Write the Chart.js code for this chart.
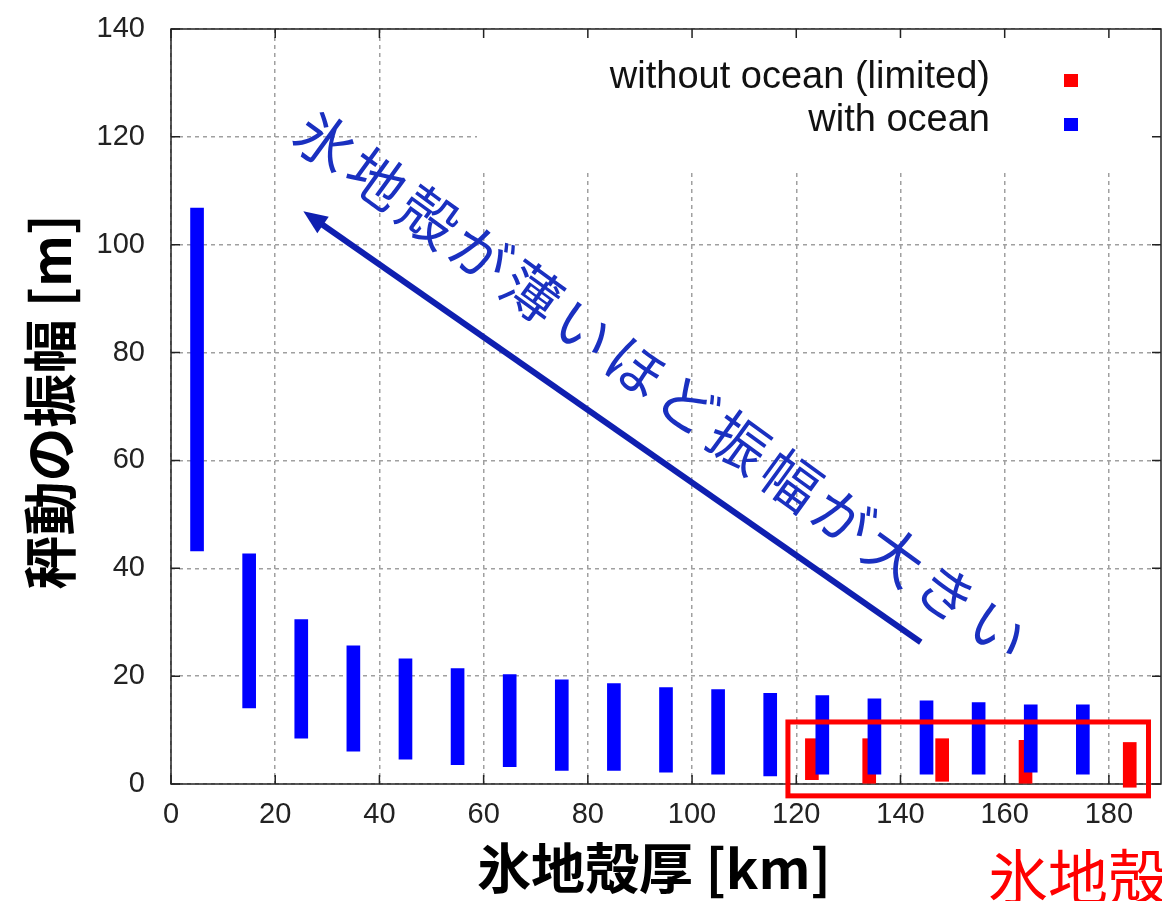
<!DOCTYPE html>
<html>
<head>
<meta charset="utf-8">
<script src="https://cdn.jsdelivr.net/npm/chart.js"></script>
<style>
  html, body { margin: 0; padding: 0; background: #fff; }
</style>
</head>
<body>
<canvas id="chart" width="1162" height="901"></canvas>
<script>
// ice shell thickness [km] vs libration amplitude range [m]
const withOceanX = [5, 15, 25, 35, 45, 55, 65, 75, 85, 95, 105, 115, 125, 135, 145, 155, 165, 175];
const withOceanLow = [43.2, 14.1, 8.5, 6.1, 4.6, 3.6, 3.2, 2.5, 2.5, 2.2, 1.8, 1.5, 1.8, 1.8, 1.8, 1.8, 2.2, 1.8];
const withOceanHigh = [106.8, 42.7, 30.5, 25.6, 23.2, 21.4, 20.3, 19.3, 18.6, 17.9, 17.5, 16.8, 16.4, 15.8, 15.4, 15.1, 14.7, 14.7];

const withoutOceanX = [123, 134, 148, 164, 184];
const withoutOceanLow = [0.8, 0.0, 0.5, 0.0, -0.6];
const withoutOceanHigh = [8.4, 8.4, 8.4, 8.1, 7.7];

const xTicks = [0, 20, 40, 60, 80, 100, 120, 140, 160, 180];
const yTicks = [0, 20, 40, 60, 80, 100, 120, 140];

const seriesNames = ['without ocean (limited)', 'with ocean'];
const xTitle = '氷地殻厚 [km]';
const yTitle = '秤動の振幅 [m]';
const noteText = '氷地殻が薄いほど振幅が大きい';
const boxText = '氷地殻';

const toPoints = (xs, lo, hi) => xs.map((x, i) => ({ x: x, y: [lo[i], hi[i]] }));

// gnuplot-like frame, inner ticks and opaque key area
const frame = {
    id: 'frame',
    beforeDatasetsDraw(chart) {
        const { ctx, chartArea: a, scales: { x, y } } = chart;
        ctx.save();
        ctx.fillStyle = '#fff';
        ctx.fillRect(477, a.top, a.right - 477, 170 - a.top);

        ctx.strokeStyle = '#222';
        ctx.lineWidth = 1.5;
        ctx.strokeRect(a.left, a.top, a.right - a.left, a.bottom - a.top);
        ctx.beginPath();
        xTicks.forEach(v => {
            const px = x.getPixelForValue(v);
            ctx.moveTo(px, a.bottom); ctx.lineTo(px, a.bottom - 9);
            ctx.moveTo(px, a.top); ctx.lineTo(px, a.top + 9);
        });
        yTicks.forEach(v => {
            const py = y.getPixelForValue(v);
            ctx.moveTo(a.left, py); ctx.lineTo(a.left + 9, py);
            ctx.moveTo(a.right, py); ctx.lineTo(a.right - 9, py);
        });
        ctx.stroke();
        ctx.restore();
    },
    afterDraw(chart) {
        const { ctx, scales: { x, y } } = chart;
        ctx.save();

        // key
        ctx.font = '38px "Liberation Sans", Arial, sans-serif';
        ctx.fillStyle = '#111';
        ctx.textAlign = 'right';
        ctx.textBaseline = 'alphabetic';
        ctx.fillText(seriesNames[0], 990, 88);
        ctx.fillText(seriesNames[1], 990, 131);
        ctx.fillStyle = '#ff0000';
        ctx.fillRect(1064, 74, 14, 13);
        ctx.fillStyle = '#0000ff';
        ctx.fillRect(1064, 118, 14, 13);

        // axis titles
        ctx.fillStyle = '#000';
        ctx.font = 'bold 54px "Noto Sans CJK JP", sans-serif';
        ctx.textAlign = 'center';
        ctx.textBaseline = 'middle';
        ctx.fillText(xTitle, 654, 868);
        ctx.save();
        ctx.translate(50, 402);
        ctx.rotate(-Math.PI / 2);
        ctx.fillText(yTitle, 0, 0);
        ctx.restore();

        // arrow
        const tx = x.getPixelForValue(143.9), ty = y.getPixelForValue(26.3);
        const hx = x.getPixelForValue(25.4), hy = y.getPixelForValue(106.2);
        const ang = Math.atan2(hy - ty, hx - tx);
        ctx.strokeStyle = '#0f1fb0';
        ctx.fillStyle = '#0f1fb0';
        ctx.lineWidth = 6;
        ctx.beginPath();
        ctx.moveTo(tx, ty);
        ctx.lineTo(hx - 16 * Math.cos(ang), hy - 16 * Math.sin(ang));
        ctx.stroke();
        ctx.beginPath();
        ctx.moveTo(hx, hy);
        ctx.lineTo(hx - 24 * Math.cos(ang) + 10 * Math.sin(ang), hy - 24 * Math.sin(ang) - 10 * Math.cos(ang));
        ctx.lineTo(hx - 24 * Math.cos(ang) - 10 * Math.sin(ang), hy - 24 * Math.sin(ang) + 10 * Math.cos(ang));
        ctx.closePath();
        ctx.fill();

        // note along the arrow
        const rot = 36 * Math.PI / 180;
        const sx = x.getPixelForValue(29.6), sy = y.getPixelForValue(119.2);
        ctx.fillStyle = '#1a30c0';
        ctx.font = '58px "Noto Sans CJK JP", sans-serif';
        [...noteText].forEach((ch, i) => {
            ctx.save();
            ctx.translate(sx + i * 64 * Math.cos(rot), sy + i * 64 * Math.sin(rot));
            ctx.rotate(rot);
            ctx.fillText(ch, 0, 0);
            ctx.restore();
        });

        // red frame around the no-ocean results
        const bx0 = x.getPixelForValue(118.4), bx1 = x.getPixelForValue(187.6);
        const by0 = y.getPixelForValue(11.5), by1 = y.getPixelForValue(-2.2);
        ctx.strokeStyle = '#ff0000';
        ctx.lineWidth = 5;
        ctx.strokeRect(bx0, by0, bx1 - bx0, by1 - by0);
        ctx.fillStyle = '#ff0000';
        ctx.font = '60px "Noto Sans CJK JP", sans-serif';
        ctx.textAlign = 'left';
        ctx.fillText(boxText, 988, 877);

        ctx.restore();
    }
};

new Chart(document.getElementById('chart').getContext('2d'), {
    type: 'bar',
    data: {
        datasets: [{
            label: seriesNames[0],
            data: toPoints(withoutOceanX, withoutOceanLow, withoutOceanHigh),
            backgroundColor: '#ff0000',
            order: 2,
            clip: false
        }, {
            label: seriesNames[1],
            data: toPoints(withOceanX, withOceanLow, withOceanHigh),
            backgroundColor: '#0000ff',
            order: 1
        }]
    },
    options: {
        responsive: false,
        animation: false,
        events: [],
        grouped: false,
        barThickness: 13,
        layout: { padding: { top: 29, right: 1, left: 0, bottom: 0 } },
        plugins: {
            legend: { display: false },
            tooltip: { enabled: false }
        },
        scales: {
            x: {
                type: 'linear',
                min: 0,
                max: 190,
                offset: false,
                afterFit: s => { s.height = 117; s.paddingLeft = 0; s.paddingRight = 0; },
                afterBuildTicks: s => { s.ticks = xTicks.map(v => ({ value: v })); },
                grid: { offset: false, drawTicks: false, color: '#a0a0a0', lineWidth: 1.5 },
                border: { display: false, dash: [4, 4] },
                ticks: {
                    padding: 14,
                    maxRotation: 0,
                    color: '#222',
                    font: { family: '"Liberation Sans", Arial, sans-serif', size: 29 }
                }
            },
            y: {
                min: 0,
                max: 140,
                afterFit: s => { s.width = 171; s.paddingTop = 0; s.paddingBottom = 0; },
                afterBuildTicks: s => { s.ticks = yTicks.map(v => ({ value: v })); },
                grid: { drawTicks: false, color: '#a0a0a0', lineWidth: 1.5 },
                border: { display: false, dash: [4, 4] },
                ticks: {
                    padding: 26,
                    color: '#222',
                    font: { family: '"Liberation Sans", Arial, sans-serif', size: 29 }
                }
            }
        }
    },
    plugins: [frame]
});
</script>
</body>
</html>
